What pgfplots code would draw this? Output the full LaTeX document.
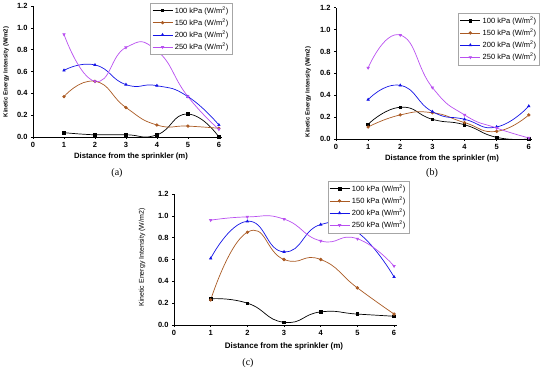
\documentclass[border=0pt]{standalone}
\usepackage{pgfplots}
\pgfplotsset{compat=1.18}
\usepackage{fontspec}
\setmainfont{Liberation Sans}
\newfontfamily\capfont{Liberation Serif}
\definecolor{cA}{RGB}{0,0,0}
\definecolor{cB}{RGB}{170,90,35}
\definecolor{cC}{RGB}{20,20,230}
\definecolor{cD}{RGB}{185,80,240}

\pgfplotstableread{
x p100 p150 p200 p250
1 0.04 0.37 0.61 0.94
2 0.02 0.51 0.66 0.51
3 0.02 0.27 0.48 0.82
4 0.02 0.11 0.47 0.79
5 0.21 0.10 0.37 0.37
6 0.00 0.08 0.11 0.07
}\dataA
\pgfplotstableread{
x p100 p150 p200 p250
1 0.135 0.11 0.36 0.65
2 0.29 0.22 0.49 0.95
3 0.18 0.24 0.25 0.47
4 0.13 0.15 0.18 0.22
5 0.015 0.07 0.11 0.10
6 0.00 0.22 0.30 0.01
}\dataB
\pgfplotstableread{
x p100 p150 p200 p250
1 0.24 0.23 0.61 0.96
2 0.20 0.85 0.95 0.99
3 0.025 0.60 0.67 0.97
4 0.12 0.60 0.92 0.77
5 0.10 0.34 0.85 0.79
6 0.08 0.10 0.44 0.54
}\dataC

\pgfplotsset{
  panel/.style={
    scale only axis,
    anchor=south west,
    xmin=0, ymin=0, ymax=1.2,
    axis lines=left,
    axis line style={-, black, line width=0.6pt},
    xtick={0,1,...,6},
    ytick={0,0.2,...,1.2},
    yticklabel style={/pgf/number format/fixed,/pgf/number format/fixed zerofill,/pgf/number format/precision=1},
    /pgf/number format/assume math mode=true,
    ticklabel style={font=\bfseries\fontsize{7.5}{8}\selectfont},
    tick style={black, line width=0.5pt},
    tick align=outside,
    major tick length=2pt,
    legend cell align=left,
    legend style={draw=gray!70, line width=0.4pt, font=\fontsize{7.5}{9}\selectfont, inner sep=1.5pt, row sep=0pt, fill=white},
    legend image code/.code={\draw[mark repeat=2,mark phase=2] plot coordinates {(0pt,0pt) (10pt,0pt) (20pt,0pt)};},
    every axis plot/.append style={line width=0.7pt, smooth, tension=0.9, mark size=1.3pt},
  },
  s1/.style={color=cA, mark=square*},
  s2/.style={color=cB, mark=*},
  s3/.style={color=cC, mark=triangle*},
  s4/.style={color=cD, mark=triangle*, mark options={rotate=180}},
}

\begin{document}
\begin{tikzpicture}
\useasboundingbox (0pt,0pt) rectangle (550pt,372pt);

% (a)
\begin{axis}[panel, at={(33pt,235pt)}, width=189pt, height=131pt, xmax=6.1,
  legend style={at={(rel axis cs:1.053,1.025)}, anchor=north east}]
\addplot[s1] table[x=x,y=p100] {\dataA};
\addplot[s2] table[x=x,y=p150] {\dataA};
\addplot[s3] table[x=x,y=p200] {\dataA};
\addplot[s4] table[x=x,y=p250] {\dataA};
\legend{100 kPa (W/m\textsuperscript{2}),150 kPa (W/m\textsuperscript{2}),200 kPa (W/m\textsuperscript{2}),250 kPa (W/m\textsuperscript{2})}
\end{axis}
\node[font=\bfseries\fontsize{7.7}{9}\selectfont] at (131pt,215pt) {Distance from the sprinkler (m)};
\node[rotate=90, font=\bfseries\fontsize{6}{7}\selectfont] at (6pt,300pt) {Kinetic Energy Intensity (W/m2)};
\node[font=\capfont\fontsize{10}{12}\selectfont] at (117pt,199pt) {(a)};

% (b)
\begin{axis}[panel, at={(336pt,233pt)}, width=196pt, height=131.3pt, xmax=6.1,
  legend style={at={(rel axis cs:1.04,0.96)}, anchor=north east}]
\addplot[s1] table[x=x,y=p100] {\dataB};
\addplot[s2] table[x=x,y=p150] {\dataB};
\addplot[s3] table[x=x,y=p200] {\dataB};
\addplot[s4] table[x=x,y=p250] {\dataB};
\legend{100 kPa (W/m\textsuperscript{2}),150 kPa (W/m\textsuperscript{2}),200 kPa (W/m\textsuperscript{2}),250 kPa (W/m\textsuperscript{2})}
\end{axis}
\node[font=\bfseries\fontsize{7.7}{9}\selectfont] at (442pt,213pt) {Distance from the sprinkler (m)};
\node[rotate=90, font=\bfseries\fontsize{6}{7}\selectfont] at (308pt,280pt) {Kinetic Energy Intensity (W/m2)};
\node[font=\capfont\fontsize{10}{12}\selectfont] at (432pt,199pt) {(b)};

% (c)
\begin{axis}[panel, at={(174pt,47pt)}, width=223pt, height=131pt, xmax=6.08,
  legend style={at={(rel axis cs:1.054,1.10)}, anchor=north east}]
\addplot[s1] table[x=x,y=p100] {\dataC};
\addplot[s2] table[x=x,y=p150] {\dataC};
\addplot[s3] table[x=x,y=p200] {\dataC};
\addplot[s4] table[x=x,y=p250] {\dataC};
\legend{100 kPa (W/m\textsuperscript{2}),150 kPa (W/m\textsuperscript{2}),200 kPa (W/m\textsuperscript{2}),250 kPa (W/m\textsuperscript{2})}
\end{axis}
\node[font=\bfseries\fontsize{8}{9}\selectfont] at (284pt,26pt) {Distance from the sprinkler (m)};
\node[rotate=90, font=\fontsize{7}{8}\selectfont] at (142pt,114.5pt) {Kinetic Energy Intensity (W/m2)};
\node[font=\capfont\fontsize{10}{12}\selectfont] at (248pt,9pt) {(c)};
\end{tikzpicture}
\end{document}
